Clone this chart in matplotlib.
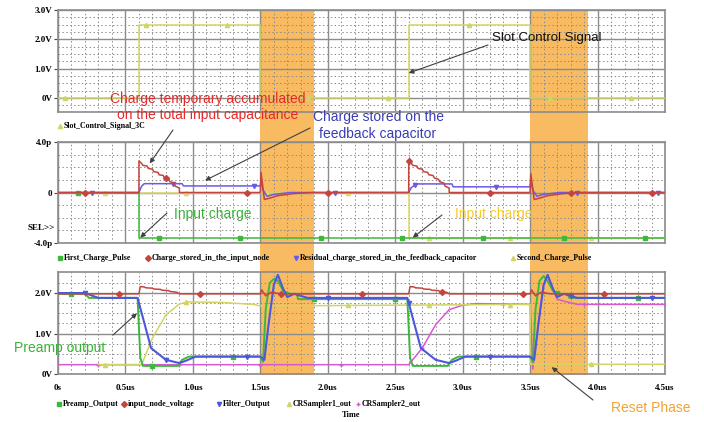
import matplotlib
matplotlib.use("Agg")
import matplotlib.pyplot as plt
import matplotlib.transforms as mtransforms
from matplotlib.lines import Line2D
from matplotlib.patches import Rectangle
import numpy as np

plt.rcParams['font.family'] = ['Liberation Serif', 'DejaVu Serif']

### slot control signal (V) vs time (us)
t_slot = [0, 0.6, 0.6, 1.5, 1.5, 2.6, 2.6, 3.5, 3.5, 4.5]
v_slot = [0, 0, 2.5, 2.5, 0, 0, 2.5, 2.5, 0, 0]

### charges (pC)
t_q1 = [0, 0.6, 0.6, 4.5]
q1 = [0, 0, -3.6, -3.6]
t_q2 = [0, 2.6, 2.6, 4.5]
q2 = [0, 0, -3.6, -3.6]
t_qin = [0, 0.6, 0.6, 0.62, 0.63, 0.66, 0.67, 0.7, 0.71, 0.74, 0.75, 0.78, 0.79, 0.82, 0.83, 0.86, 0.87, 0.9, 0.9,
         1.5, 1.505, 1.52, 1.53, 1.57, 1.63, 1.75, 1.9,
         2.6, 2.6, 2.62, 2.63, 2.66, 2.67, 2.7, 2.71, 2.74, 2.75, 2.78, 2.79, 2.82, 2.83, 2.86, 2.87, 2.9, 2.9,
         3.5, 3.505, 3.52, 3.53, 3.57, 3.63, 3.75, 3.9, 4.5]
q_in = [0, 0, 2.5, 2.3, 2.15, 2.1, 1.9, 1.85, 1.65, 1.6, 1.4, 1.35, 1.15, 1.05, 0.85, 0.75, 0.5, 0.35, 0,
        0, 1.6, 0.3, -0.55, -0.45, -0.25, -0.08, 0,
        0, 2.5, 2.3, 2.15, 2.1, 1.9, 1.85, 1.65, 1.6, 1.4, 1.35, 1.15, 1.05, 0.85, 0.75, 0.5, 0.35, 0,
        0, 1.5, 0.3, -0.55, -0.45, -0.25, -0.08, 0, 0]
t_qfb = [0, 0.6, 0.62, 0.64, 0.92, 0.93, 1.5, 1.505, 1.52, 1.55, 1.6, 1.72,
         2.6, 2.62, 2.66, 2.92, 2.93, 3.5, 3.505, 3.52, 3.55, 3.6, 3.72, 4.5]
q_fb = [0, 0, 0.5, 0.7, 0.7, 0.52, 0.52, 1.0, 0.2, -0.3, -0.15, 0,
        0, 0.4, 0.68, 0.68, 0.45, 0.45, 0.9, 0.2, -0.3, -0.15, 0, 0]

### voltages (V)
t_pre = [0, 0.2, 0.23, 0.59, 0.61, 0.63, 0.89, 0.92, 0.97, 1.5, 1.52, 1.54, 1.57, 1.6, 1.63, 1.67, 1.72, 1.77, 1.78,
         2.59, 2.61, 2.63, 2.89, 2.92, 2.97, 3.5, 3.52, 3.54, 3.57, 3.6, 3.63, 3.67, 3.72, 3.78, 3.79, 4.5]
v_pre = [1.98, 1.98, 1.88, 1.88, 0.4, 0.2, 0.2, 0.35, 0.43, 0.43, 0.3, 1.6, 2.25, 2.35, 2.3, 2.05, 1.98, 1.98, 1.85,
         1.85, 0.4, 0.2, 0.2, 0.35, 0.43, 0.43, 0.3, 1.6, 2.3, 2.42, 2.3, 2.05, 1.98, 1.98, 1.88, 1.88]
t_vin = [0, 0.6, 0.61, 0.64, 0.65, 0.7, 0.71, 0.76, 0.77, 0.82, 0.83, 0.88, 0.9,
         1.5, 1.51, 1.54, 1.58, 1.65,
         2.6, 2.61, 2.64, 2.65, 2.7, 2.71, 2.76, 2.77, 2.82, 2.83, 2.88, 2.9,
         3.5, 3.51, 3.54, 3.58, 3.65, 4.5]
v_vin = [1.98, 1.98, 2.16, 2.15, 2.13, 2.12, 2.10, 2.09, 2.07, 2.06, 2.04, 2.02, 1.98,
         1.98, 2.08, 1.93, 2.02, 1.98,
         1.98, 2.16, 2.15, 2.13, 2.12, 2.10, 2.09, 2.07, 2.06, 2.04, 2.02, 1.98,
         1.98, 2.08, 1.93, 2.02, 1.98, 1.98]
t_flt = [0, 0.2, 0.3, 0.59, 0.69, 0.8, 0.9, 0.95, 1.02, 1.5, 1.53, 1.56, 1.6, 1.63, 1.67, 1.7, 1.75, 1.85,
         2.59, 2.69, 2.8, 2.9, 2.95, 3.02, 3.5, 3.53, 3.56, 3.6, 3.63, 3.67, 3.7, 3.75, 3.85, 4.5]
v_flt = [2.0, 2.0, 1.88, 1.88, 0.64, 0.35, 0.27, 0.33, 0.43, 0.43, 0.35, 1.2, 2.2, 2.45, 2.1, 1.9, 1.98, 1.88,
         1.88, 0.64, 0.35, 0.27, 0.33, 0.43, 0.43, 0.35, 1.2, 2.2, 2.45, 2.1, 1.9, 1.98, 1.88, 1.88]
t_cr1 = [0.3, 0.62, 0.7, 0.8, 0.9, 0.96, 1.2, 1.45, 1.5, 3.5, 3.5, 4.5]
v_cr1 = [0.23, 0.23, 0.89, 1.46, 1.73, 1.78, 1.77, 1.72, 1.68, 1.72, 0.24, 0.24]
t_cr2 = [0, 2.6, 2.7, 2.8, 2.9, 3.0, 3.1, 3.5, 3.52, 3.56, 3.6, 3.63, 3.67, 3.7, 3.75, 3.85, 4.5]
v_cr2 = [0.23, 0.23, 0.64, 1.22, 1.59, 1.7, 1.74, 1.72, 0.12, 1.2, 2.2, 2.45, 2.1, 1.85, 1.8, 1.72, 1.72]

reset_phases = [(1.5, 1.9), (3.5, 3.93)]

GREEN = '#3cb83c'
RED = '#c4443e'
PURPLE = '#6a5ae6'
BLUE = '#4c58dc'
YELLOW = '#d2d464'
MAGENTA = '#d45ad4'
GRID = '#8c8c8c'

W, H = 704, 422
fig = plt.figure(figsize=(W / 100, H / 100), dpi=100)


def fx(px):
    return px / W


def fy(py):
    return 1 - py / H


def make_axes(top, bottom):
    return fig.add_axes([fx(58), fy(bottom), fx(665) - fx(58), fy(top) - fy(bottom)])


ax1 = make_axes(10, 112)
ax2 = make_axes(142, 243)
ax3 = make_axes(272, 374)


def style(ax, ylim, ymaj, ylabels, yminor, show_x=False):
    ax.set_facecolor('none')
    ax.set_xlim(0, 4.5)
    ax.set_ylim(*ylim)
    ax.set_xticks(np.arange(0, 4.51, 0.5))
    ax.set_xticks(np.arange(0, 4.51, 0.1), minor=True)
    ax.set_yticks(ymaj)
    ax.set_yticklabels(ylabels)
    ax.set_yticks(yminor, minor=True)
    ax.set_axisbelow(True)
    ax.grid(which='major', color=GRID, lw=1.0)
    ax.grid(which='minor', color=GRID, lw=0.7, ls=(0, (1.5, 2.5)))
    for s in ax.spines.values():
        s.set_color(GRID)
        s.set_linewidth(1.2)
    ax.tick_params(axis='y', which='major', length=3, color='#444444', pad=1,
                   labelsize=6.5)
    ax.tick_params(axis='y', which='minor', length=0)
    ax.tick_params(axis='x', which='both', length=0, labelsize=6.5, pad=7,
                   labelbottom=show_x)
    for lab in ax.get_yticklabels() + ax.get_xticklabels():
        lab.set_fontweight('bold')


style(ax1, (-0.48, 3.0), [0, 1, 2, 3], ['0V', '1.0V', '2.0V', '3.0V'], np.arange(-0.25, 3.0, 0.25))
style(ax2, (-4, 4), [-4, 0, 4], ['-4.0p', '0', '4.0p'], np.arange(-3, 4, 1))
style(ax3, (0, 2.52), [0, 1, 2], ['0V', '1.0V', '2.0V'], np.arange(0.25, 2.5, 0.25), show_x=True)
ax3.set_xticklabels(['0s', '0.5us', '1.0us', '1.5us', '2.0us', '2.5us', '3.0us', '3.5us', '4.0us', '4.5us'])
for lab in ax3.get_xticklabels():
    lab.set_fontweight('bold')

# reset phase bands span all three panels
band_trans = mtransforms.blended_transform_factory(ax3.transData, fig.transFigure)
for t0, t1 in reset_phases:
    fig.add_artist(Rectangle((t0, fy(375)), t1 - t0, fy(10) - fy(375), transform=band_trans,
                             facecolor='#f8bb62', edgecolor='none', zorder=-1))


def trace(ax, t, v, color, marker, t0, lw=1.1, z=3):
    ax.plot(t, v, color=color, lw=lw, zorder=z)
    tm = np.arange(t0, 4.5, 0.6)
    ax.plot(tm, np.interp(tm, t, v), ls='none', marker=marker, ms=3, color=color, zorder=z)


trace(ax1, t_slot, v_slot, YELLOW, '^', 0.05)

trace(ax2, t_q2, q2, '#dcd868', '^', 0.35)
trace(ax2, t_q1, q1, GREEN, 's', 0.15)
trace(ax2, t_qfb, q_fb, PURPLE, 'v', 0.25, z=4)
trace(ax2, t_qin, q_in, RED, 'D', 0.2, z=5)

trace(ax3, t_cr2, v_cr2, MAGENTA, '+', 0.3)
trace(ax3, t_cr1, v_cr1, YELLOW, '^', 0.35)
trace(ax3, t_pre, v_pre, GREEN, 's', 0.1, lw=1.4, z=4)
trace(ax3, t_flt, v_flt, BLUE, 'v', 0.2, lw=1.5, z=5)
trace(ax3, t_vin, v_vin, RED, 'D', 0.45, z=6)

fig.text(fx(55), fy(228), 'SEL>>', ha='right', va='center', fontsize=6.5, fontweight='bold')


def legend_row(y, items):
    for x, label, color, marker in items:
        fig.add_artist(Line2D([fx(x)], [fy(y)], marker=marker, ms=3, color=color,
                              ls='none', transform=fig.transFigure))
        fig.text(fx(x + 4), fy(y), label, ha='left', va='center', fontsize=5.7, fontweight='bold')


legend_row(126, [(60, 'Slot_Control_Signal_3C', YELLOW, '^')])
legend_row(258, [(60, 'First_Charge_Pulse', GREEN, 's'),
                 (148, 'Charge_stored_in_the_input_node', RED, 'D'),
                 (296, 'Residual_charge_stored_in_the_feedback_capacitor', PURPLE, 'v'),
                 (513, 'Second_Charge_Pulse', YELLOW, '^')])
legend_row(404, [(59, 'Preamp_Output', GREEN, 's'),
                 (124, 'input_node_voltage', RED, 'D'),
                 (219, 'Filter_Output', BLUE, 'v'),
                 (289, 'CRSampler1_out', YELLOW, '^'),
                 (358, 'CRSampler2_out', MAGENTA, '+')])
fig.text(fx(351), fy(415), 'Time', ha='center', va='center', fontsize=6, fontweight='bold')

# callouts
SANS = ['Liberation Sans', 'DejaVu Sans']
AC = dict(arrowstyle='-|>', color='#404040', lw=0.8, mutation_scale=7, shrinkA=0, shrinkB=0)

fig.text(fx(492), fy(38), 'Slot Control Signal', family=SANS, fontsize=9.5, color='#111111', va='center')
ax1.annotate('', xy=(2.6, 0.85), xytext=(fx(488), fy(45)), textcoords='figure fraction', arrowprops=AC)

fig.text(fx(208), fy(99), 'Charge temporary accumulated', family=SANS, fontsize=10, color='#e62828',
         ha='center', va='center')
fig.text(fx(208), fy(115), 'on the total input capacitance', family=SANS, fontsize=10, color='#e62828',
         ha='center', va='center')
ax2.annotate('', xy=(0.68, 2.3), xytext=(fx(173), fy(130)), textcoords='figure fraction', arrowprops=AC)

fig.text(fx(378), fy(117), 'Charge stored on the', family=SANS, fontsize=10, color='#3c3cb4',
         ha='center', va='center')
fig.text(fx(378), fy(134), 'feedback capacitor', family=SANS, fontsize=10, color='#3c3cb4',
         ha='center', va='center')
ax2.annotate('', xy=(1.09, 0.95), xytext=(fx(310), fy(128)), textcoords='figure fraction', arrowprops=AC)

fig.text(fx(213), fy(214), 'Input charge', family=SANS, fontsize=10, color='#34b434',
         ha='center', va='center')
ax2.annotate('', xy=(0.61, -3.57), xytext=(fx(167), fy(213)), textcoords='figure fraction', arrowprops=AC)

fig.text(fx(494), fy(214), 'Input charge', family=SANS, fontsize=10, color='#f6cc2c',
         ha='center', va='center')
ax2.annotate('', xy=(2.63, -3.57), xytext=(fx(442), fy(215)), textcoords='figure fraction', arrowprops=AC)

fig.text(fx(60), fy(348), 'Preamp output', family=SANS, fontsize=10, color='#34b434',
         ha='center', va='center')
ax3.annotate('', xy=(0.585, 1.5), xytext=(fx(113), fy(335)), textcoords='figure fraction', arrowprops=AC)

fig.text(fx(651), fy(408), 'Reset Phase', family=SANS, fontsize=10, color='#f2a234',
         ha='center', va='center')
ax3.annotate('', xy=(3.66, 0.17), xytext=(fx(593), fy(400)), textcoords='figure fraction', arrowprops=AC)

fig.savefig('out.png', dpi=100)
